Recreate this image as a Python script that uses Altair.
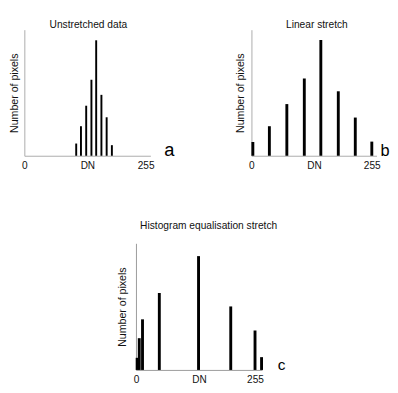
import altair as alt
import pandas as pd

# ---- data ----
a_dn = [109, 119, 130, 141, 151, 162, 173, 184]
a_count = [12.7, 30.7, 52, 79, 120, 63.3, 40, 11]

b_dn = [3, 38, 75, 112, 147, 184, 220, 255]
b_count = [14.3, 30.7, 53.7, 80.3, 120.3, 67, 39.7, 14.7]

c_dn = [2.5, 7, 14, 50, 134, 203, 255, 269]
c_count = [12.6, 33, 52.6, 80, 118.3, 66, 41, 13.3]

tick_values = [0, 255]
titles = ["Unstretched data", "Linear stretch", "Histogram equalisation stretch"]
letters = ["a", "b", "c"]

FONT = "Liberation Sans"


def panel(dn, cnt, title, letter, letter_dn, letter_size, xmax, width, height,
          ymax, bar_size, title_offset, title_dx, y_title_pad, domain_color):
    df = pd.DataFrame({"DN": dn, "count": cnt})
    xscale = alt.Scale(domain=[0, xmax], nice=False, zero=False, padding=0)
    yscale = alt.Scale(domain=[0, ymax], nice=False, padding=0)
    xenc = alt.X(
        "DN:Q",
        scale=xscale,
        axis=alt.Axis(
            values=tick_values, title="DN", ticks=False, grid=False,
            labelPadding=5, labelFlush=False, labelAlign="center",
            labelFontSize=10.5, labelFont=FONT, labelColor="#111",
            titleFont=FONT, titleFontSize=10.4, titleFontWeight="normal",
            titleColor="#111", titleY=5, titleBaseline="top",
            domainColor=domain_color, format="d",
        ),
    )
    yenc = alt.Y(
        "count:Q",
        scale=yscale,
        axis=alt.Axis(
            title="Number of pixels", labels=False, ticks=False, grid=False,
            titlePadding=y_title_pad, titleFont=FONT, titleFontSize=11,
            titleFontWeight="normal", titleColor="#111",
            domainColor=domain_color,
        ),
    )
    bars = alt.Chart(df).mark_bar(size=bar_size, color="black").encode(x=xenc, y=yenc)
    ldf = pd.DataFrame({"DN": [letter_dn], "count": [0], "t": [letter]})
    lab = alt.Chart(ldf).mark_text(
        fontSize=letter_size, font=FONT, align="center", baseline="alphabetic",
        color="black",
    ).encode(
        x=alt.X("DN:Q", scale=xscale),
        y=alt.Y("count:Q", scale=yscale),
        text="t:N",
    )
    return alt.layer(bars, lab).properties(
        width=width, height=height,
        title=alt.TitleParams(
            title, fontSize=10.6, font=FONT, fontWeight="normal", color="#111",
            offset=title_offset, dx=title_dx,
        ),
    )


pa = panel(a_dn, a_count, titles[0], letters[0], 305, 19, 265, 131, 131, 131,
           2, -1, 1, 5.5, "#aaa")
pb = panel(b_dn, b_count, titles[1], letters[1], 283, 17, 265, 130, 131, 131,
           3, -1, 3, 6.5, "#aaa")
pc = panel(c_dn, c_count, titles[2], letters[2], 312, 16, 270, 131, 131.6, 131.6,
           3, 12.6, 10, 8.5, "#999")

spacer = alt.Chart(pd.DataFrame({"v": [0]})).mark_point(size=0, opacity=0).encode(
    x=alt.value(0), y=alt.value(0)
).properties(width=95, height=10)

row1 = alt.hconcat(pa, pb, spacing=61)
row2 = alt.hconcat(spacer, pc, spacing=1)

chart = alt.vconcat(row1, row2, spacing=51).properties(
    padding={"top": 5, "left": 0, "right": 0, "bottom": 0},
    background="white",
).configure_view(strokeWidth=0)

chart.save("out.html", embed_options={"renderer": "svg", "actions": False})
